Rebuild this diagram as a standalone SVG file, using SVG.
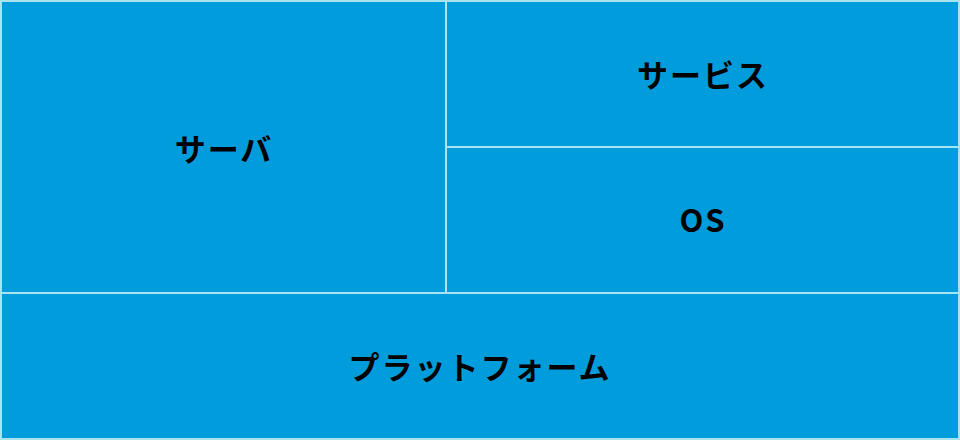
<svg xmlns="http://www.w3.org/2000/svg" width="960" height="440" viewBox="0 0 960 440">
<style>
.box{fill:#009cdc;stroke:#a6e4f2;stroke-width:2}
.lbl{font-family:"Noto Sans CJK JP","Noto Sans",sans-serif;font-weight:bold;font-size:31px;letter-spacing:2px;fill:#000;text-anchor:middle}
</style>
<rect x="0" y="0" width="960" height="440" fill="#009cdc"/>
<g id="server">
<rect class="box" x="1" y="1" width="445" height="292"/>
<text class="lbl" x="224" y="161">サーバ</text>
</g>
<g id="service">
<rect class="box" x="446" y="1" width="513" height="146"/>
<text class="lbl" x="703" y="87">サービス</text>
</g>
<g id="os">
<rect class="box" x="446" y="147" width="513" height="146"/>
<text class="lbl" x="703" y="232">OS</text>
</g>
<g id="platform">
<rect class="box" x="1" y="293" width="958" height="146"/>
<text class="lbl" x="480" y="379">プラットフォーム</text>
</g>
<g id="connectors"></g>
</svg>
